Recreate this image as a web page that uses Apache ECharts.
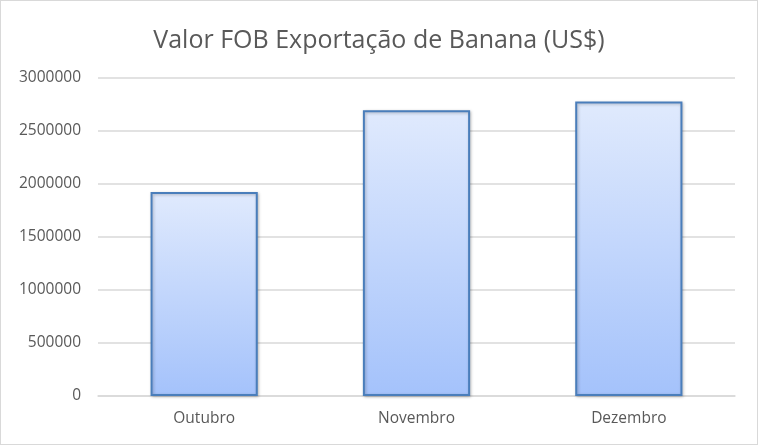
<!DOCTYPE html>
<html>
<head>
<meta charset="utf-8">
<script src="https://cdn.jsdelivr.net/npm/echarts@6/dist/echarts.min.js"></script>
<style>
  html, body { margin: 0; padding: 0; background: #fff; }
  #chart { width: 756px; height: 443px; border: 1px solid #d9d9d9; }
</style>
</head>
<body>
<div id="chart"></div>
<script>
// data
var months = ['Outubro', 'Novembro', 'Dezembro'];
var fobValues = [1925000, 2695000, 2778000];
var yTicks = [0, 500000, 1000000, 1500000, 2000000, 2500000, 3000000];

var myChart = echarts.init(document.getElementById('chart'));

var option = {
    animation: false,
    title: {
        text: 'Valor FOB Exportação de Banana (US$)',
        left: 'center',
        top: 22,
        textStyle: {
            fontFamily: 'Open Sans',
            fontSize: 25,
            fontWeight: 'normal',
            color: '#595959'
        }
    },
    grid: {
        left: 97,
        right: 22,
        top: 77,
        bottom: 48
    },
    xAxis: {
        type: 'category',
        data: months,
        axisLine: { lineStyle: { color: '#d9d9d9', width: 1.5 } },
        axisTick: { show: false },
        axisLabel: {
            margin: 15,
            fontFamily: 'Open Sans',
            fontSize: 15.5,
            color: '#595959'
        }
    },
    yAxis: {
        type: 'value',
        min: yTicks[0],
        max: yTicks[yTicks.length - 1],
        interval: yTicks[1] - yTicks[0],
        axisLine: { show: false },
        axisTick: { show: false },
        splitLine: { lineStyle: { color: '#d9d9d9', width: 1.5 } },
        axisLabel: {
            margin: 17,
            fontFamily: 'Open Sans',
            fontSize: 15.5,
            color: '#595959',
            formatter: function (v) { return String(v); }
        }
    },
    series: [
        {
            type: 'bar',
            data: fobValues,
            barWidth: '50.5%',
            itemStyle: {
                color: new echarts.graphic.LinearGradient(0, 0, 0, 1, [
                    { offset: 0, color: '#e0eafd' },
                    { offset: 1, color: '#a4c2fb' }
                ]),
                borderColor: '#4a7ebb',
                borderWidth: 2,
                shadowColor: 'rgba(0,0,0,0.25)',
                shadowBlur: 3,
                shadowOffsetX: 1,
                shadowOffsetY: 1
            }
        }
    ]
};

myChart.setOption(option);
</script>
</body>
</html>
